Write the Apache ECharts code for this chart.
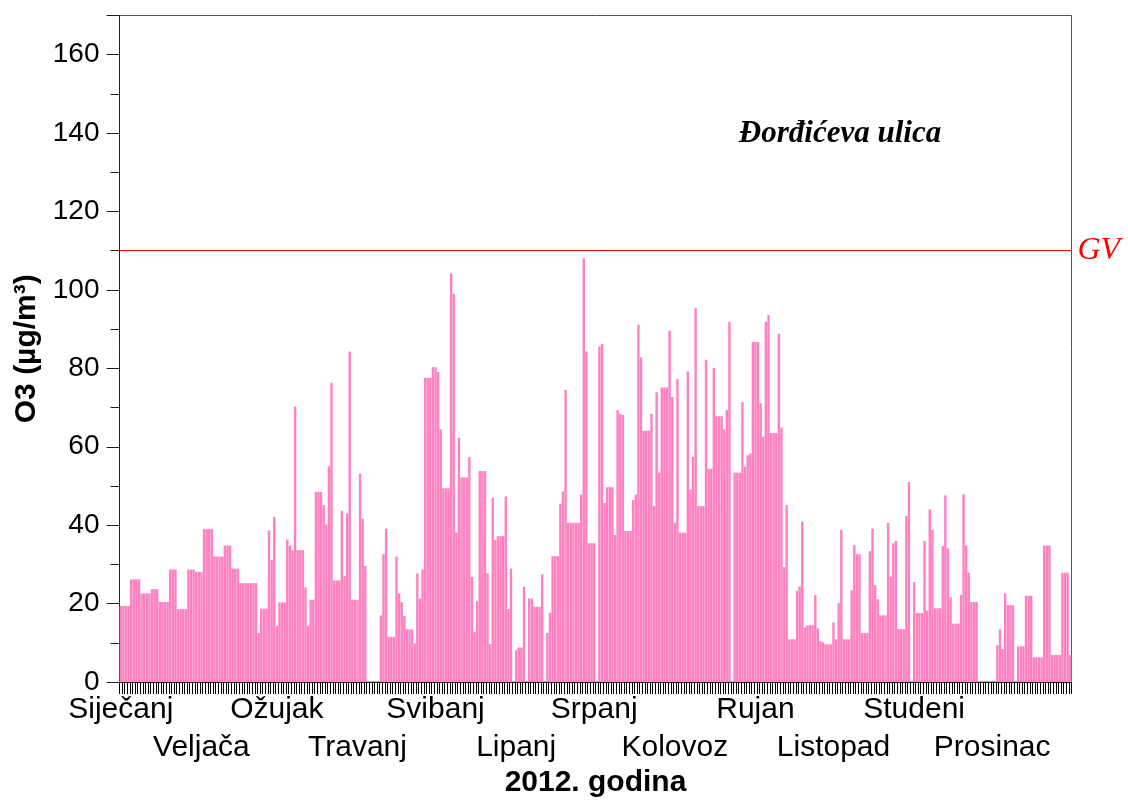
<!DOCTYPE html>
<html>
<head>
<meta charset="utf-8">
<script src="https://cdn.jsdelivr.net/npm/echarts@6/dist/echarts.min.js"></script>
<style>
  html, body { margin: 0; padding: 0; background: #fff; }
  #chart { width: 1128px; height: 803px; }
</style>
</head>
<body>
<div id="chart"></div>
<script>
// mjeseci (oznake na osi x)
const mjeseci = ['Siječanj', 'Veljača', 'Ožujak', 'Travanj', 'Svibanj', 'Lipanj',
  'Srpanj', 'Kolovoz', 'Rujan', 'Listopad', 'Studeni', 'Prosinac'];

// dnevne vrijednosti O3 (µg/m³), 2012., null = nema podatka
const sijecanj = [19.4, 19.4, 19.4, 19.4, 26.2, 26.2, 26.2, 26.2, 22.6, 22.6, 22.6, 22.6, 23.7, 23.7, 23.7,
  20.4, 20.4, 20.4, 20.4, 28.7, 28.7, 28.7, 18.6, 18.6, 18.6, 18.6, 28.7, 28.7, 28.7, 28.1, 28.1];
const veljaca = [28.1, 39, 39, 39, 39, 32, 32, 32, 32, 34.8, 34.8, 34.8, 28.9, 28.9, 28.9,
  25.2, 25.2, 25.2, 25.2, 25.2, 25.2, 25.2, 12.5, 18.7, 18.7, 18.7, 38.7, 31.1, 42.1];
const ozujak = [14.3, 20.3, 20.3, 20.3, 36.3, 34.8, 33.6, 70.2, 33.6, 33.6, 33.6, 24.1, 14.3, 21, 21,
  48.5, 48.5, 48.5, 45.1, 40.2, 55, 76.3, 25.9, 25.9, 25.9, 43.7, 27, 43, 84.3, 21, 21];
const travanj = [20.9, 53.1, 41.7, 29.6, null, null, null, null, null, 17, 32.6, 39.1, 11.5, 11.5, 11.5,
  32, 22.6, 20.4, 16.8, 13.4, 13.4, 13.4, 9.8, 27.7, 21.3, 28.7, 77.6, 77.6, 77.6, 80.3];
const svibanj = [80.3, 79.1, 64.4, 49.4, 49.4, 49.4, 104.2, 99, 38.1, 62.3, 52.2, 52.2, 52.2, 57.4, 26.8,
  12.8, 20.6, 53.8, 53.8, 53.8, 27.7, 9.7, 47, 36.2, 37.2, 37.2, 37.2, 47.3, 18.6, 28.9, null];
const lipanj = [8.1, 8.8, 8.8, 24.3, null, 21.3, 21.3, 19.2, 19.2, 19.2, 27.5, null, 12.5, 17.7, 32.1,
  32.1, 32.1, 45.5, 48.6, 74.5, 40.6, 40.6, 40.6, 40.6, 40.6, 47.8, 108.1, 84.3, 35.4, 35.4];
const srpanj = [35.4, null, 85.6, 86.2, 45.7, 49.7, 49.7, 49.7, 37.5, 69.4, 68.4, 68.1, 38.5, 38.5, 38.5,
  46.4, 47.8, 91.1, 82.8, 64.1, 64.1, 64.1, 68.4, 44.9, 73.9, 53.4, 75.1, 75.1, 75.1, 89.6, 72.7];
const kolovoz = [40.6, 77.3, 38.1, 38.1, 38.1, 79.2, 49.1, 57.4, 95.3, 44.9, 44.9, 44.9, 82.2, 54.4, 54.4,
  80.1, 67.8, 67.8, 67.8, 64.4, 69.4, 91.9, null, 53.4, 53.4, 53.4, 71.4, 54.9, 57.8, 58.3, 86.7];
const rujan = [86.7, 86.7, 71.1, 62.6, 91.9, 93.6, 63.5, 63.5, 63.5, 88.8, 64.9, 29.3, 45.1, 10.9, 10.9,
  10.9, 23.2, 24.4, 40.9, 13.9, 14.5, 14.5, 14.5, 22.2, 13.7, 10.4, 10.1, 9.6, 9.6, 9.6];
const listopad = [15.2, 10.9, 20.1, 38.8, 10.9, 10.9, 10.9, 23.4, 34.9, 32.6, 32.6, 12.5, 12.5, 12.5, 33.4,
  39.1, 24.7, 21.1, 17, 17, 17, 40.6, 26.9, 35.4, 36, 13.5, 13.5, 13.5, 42.3, 51, null];
const studeni = [25.5, 17.6, 17.6, 17.6, 36, 18.2, 44, 38.8, 18.8, 18.8, 18.8, 34.7, 47.6, 34.1, 21.6,
  14.9, 14.9, 14.9, 22.2, 47.9, 34.8, 27.9, 20.4, 20.4, 20.4, null, null, null, null, null];
const prosinac = [null, null, 9.4, 13.4, 8.4, 22.6, 19.6, 19.6, 19.6, null, 9.1, 9.1, 9.1, 22, 22,
  22, 6.3, 6.3, 6.3, 6.3, 34.8, 34.8, 34.8, 6.9, 6.9, 6.9, 6.9, 27.9, 27.9, 27.9, 6.9];

// granična vrijednost
const GV = 110;

const poMjesecima = [sijecanj, veljaca, ozujak, travanj, svibanj, lipanj,
  srpanj, kolovoz, rujan, listopad, studeni, prosinac];

// kategorije = dani, pamti početak svakog mjeseca
const dani = [];
const vrijednosti = [];
const pocetakMjeseca = {};
poMjesecima.forEach(function (mj, m) {
  pocetakMjeseca[dani.length] = m;
  mj.forEach(function (v, d) {
    dani.push((d + 1) + '.' + (m + 1) + '.2012.');
    vrijednosti.push(v);
  });
});

const FONT = "'Liberation Sans', Arial, sans-serif";
const SERIF = "'Liberation Serif', 'Times New Roman', serif";

// oznake mjeseci u dva reda: neparni (Sij, Ožu, ...) gore, parni dolje
function osMjeseci(red, margina) {
  return {
    type: 'category',
    data: dani,
    position: 'bottom',
    axisLine: { show: false },
    axisTick: { show: false },
    axisLabel: {
      interval: function (i) {
        return pocetakMjeseca[i] !== undefined && pocetakMjeseca[i] % 2 === red;
      },
      formatter: function (v, i) { return mjeseci[pocetakMjeseca[i]]; },
      hideOverlap: false,
      margin: margina,
      fontFamily: FONT, fontSize: 30, color: '#000'
    }
  };
}

const chart = echarts.init(document.getElementById('chart'), null, { renderer: 'canvas' });
chart.setOption({
  animation: false,
  backgroundColor: '#fff',
  title: {
    text: 'Đorđićeva ulica',
    left: 835,
    top: 113,
    textAlign: 'center',
    textStyle: { fontFamily: SERIF, fontStyle: 'italic', fontWeight: 'bold', fontSize: 31, color: '#000' }
  },
  grid: {
    left: 119.5, right: 56.5, top: 15.5, bottom: 120,
    show: true, borderColor: '#555', borderWidth: 1
  },
  xAxis: [{
    type: 'category',
    data: dani,
    name: '2012. godina',
    nameLocation: 'middle',
    nameGap: 86,
    nameTextStyle: { fontFamily: FONT, fontWeight: 'bold', fontSize: 30, color: '#000' },
    axisLine: { show: true, lineStyle: { color: '#222', width: 1 } },
    axisTick: { show: true, interval: 0, length: 12, lineStyle: { color: '#000', width: 1 } },
    axisLabel: { show: false }
  },
  osMjeseci(0, 13),
  osMjeseci(1, 51)],
  yAxis: [{
    type: 'value',
    min: 0, max: 170, interval: 10,
    name: 'O3 (µg/m³)',
    nameLocation: 'middle',
    nameGap: 74,
    nameTextStyle: { fontFamily: FONT, fontWeight: 'bold', fontSize: 30, color: '#000' },
    axisLine: { show: true, lineStyle: { color: '#222', width: 1 } },
    axisTick: { show: true, length: 9, lineStyle: { color: '#222' } },
    axisLabel: {
      margin: 20,
      formatter: function (v) { return v % 20 === 0 && v <= 160 ? v : ''; },
      fontFamily: FONT, fontSize: 28, color: '#000'
    },
    splitLine: { show: false }
  }, {
    // duže crtice na svakih 20
    type: 'value',
    position: 'left',
    min: 0, max: 170, interval: 20,
    axisLine: { show: false },
    axisTick: { show: true, length: 13, lineStyle: { color: '#222' } },
    axisLabel: { show: false },
    splitLine: { show: false }
  }],
  series: [{
    type: 'bar',
    data: vrijednosti,
    barCategoryGap: '8%',
    itemStyle: { color: '#ff80c0' },
    markLine: {
      silent: true,
      symbol: ['none', 'none'],
      lineStyle: { color: '#ff0000', width: 1, type: 'solid', opacity: 1 },
      emphasis: { disabled: true },
      label: {
        position: 'end',
        formatter: 'GV',
        distance: 6,
        fontFamily: SERIF, fontStyle: 'italic', fontSize: 32, color: '#ff0000'
      },
      data: [{ yAxis: GV, lineStyle: { color: '#ff0000' } }]
    }
  }]
});
</script>
</body>
</html>
